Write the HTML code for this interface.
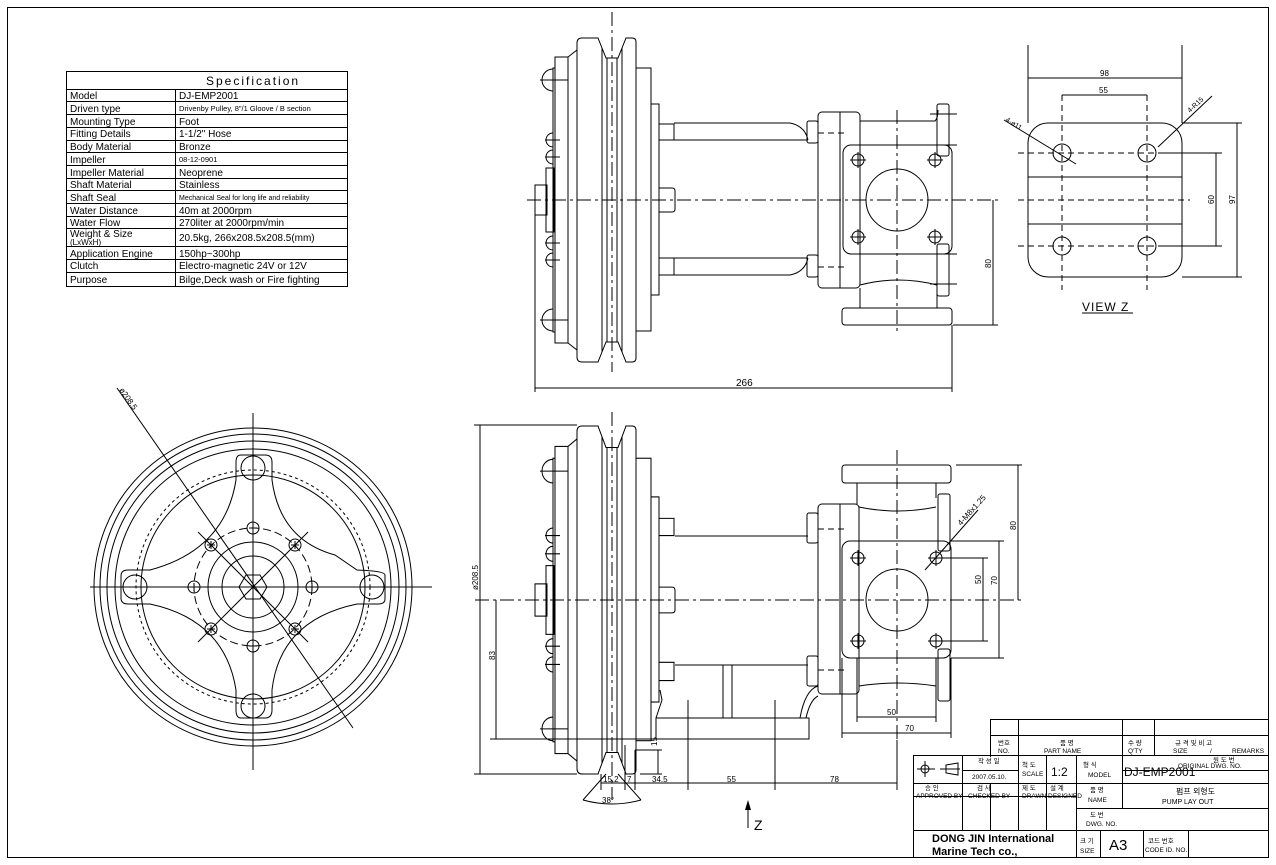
<!DOCTYPE html>
<html><head><meta charset="utf-8"><style>
html,body{margin:0;padding:0;background:#fff;}
svg{display:block;}
text{font-family:"Liberation Sans","Noto Sans CJK KR",sans-serif;fill:#000;}
.s{fill:none;stroke:#000;stroke-width:1;}
.d{fill:none;stroke:#000;stroke-width:1;stroke-dasharray:14,4,3,4;}
.h{fill:none;stroke:#000;stroke-width:1;stroke-dasharray:6,4;}
.t{font-size:10px;}
.sm{font-size:7px;}
</style></head><body>
<svg width="1276" height="865" viewBox="0 0 1276 865" xmlns="http://www.w3.org/2000/svg">
<rect x="0" y="0" width="1276" height="865" fill="#fff"/>
<rect x="7.5" y="7.5" width="1261" height="850" class="s"/>

<!-- SPEC TABLE -->
<g class="s">
<rect x="66.5" y="71.5" width="281" height="215"/>
<line x1="66" y1="89.5" x2="347" y2="89.5"/>
<line x1="66" y1="101.5" x2="347" y2="101.5"/>
<line x1="66" y1="114.5" x2="347" y2="114.5"/>
<line x1="66" y1="127.5" x2="347" y2="127.5"/>
<line x1="66" y1="140.5" x2="347" y2="140.5"/>
<line x1="66" y1="152.5" x2="347" y2="152.5"/>
<line x1="66" y1="165.5" x2="347" y2="165.5"/>
<line x1="66" y1="178.5" x2="347" y2="178.5"/>
<line x1="66" y1="190.5" x2="347" y2="190.5"/>
<line x1="66" y1="203.5" x2="347" y2="203.5"/>
<line x1="66" y1="216.5" x2="347" y2="216.5"/>
<line x1="66" y1="228.5" x2="347" y2="228.5"/>
<line x1="66" y1="246.5" x2="347" y2="246.5"/>
<line x1="66" y1="259.5" x2="347" y2="259.5"/>
<line x1="66" y1="272.5" x2="347" y2="272.5"/>
<line x1="175.5" y1="89" x2="175.5" y2="286"/>
</g>
<g class="t">
<text x="206" y="85" font-size="12" letter-spacing="2">Specification</text>
<text x="70" y="99">Model</text><text x="179" y="99">DJ-EMP2001</text>
<text x="70" y="112">Driven type</text><text x="179" y="111" font-size="7.5">Drivenby Pulley, 8"/1 Gloove / B section</text>
<text x="70" y="125">Mounting Type</text><text x="179" y="125">Foot</text>
<text x="70" y="137">Fitting Details</text><text x="179" y="137">1-1/2" Hose</text>
<text x="70" y="150">Body Material</text><text x="179" y="150">Bronze</text>
<text x="70" y="163">Impeller</text><text x="179" y="162" font-size="7.5">08-12-0901</text>
<text x="70" y="176">Impeller Material</text><text x="179" y="176">Neoprene</text>
<text x="70" y="188">Shaft Material</text><text x="179" y="188">Stainless</text>
<text x="70" y="201">Shaft Seal</text><text x="179" y="200" font-size="7">Mechanical Seal for long life and reliability</text>
<text x="70" y="214">Water Distance</text><text x="179" y="214">40m at 2000rpm</text>
<text x="70" y="226">Water Flow</text><text x="179" y="226">270liter at 2000rpm/min</text>
<text x="70" y="237">Weight &amp; Size</text><text x="70" y="245" font-size="8">(LxWxH)</text><text x="179" y="241">20.5kg, 266x208.5x208.5(mm)</text>
<text x="70" y="257">Application Engine</text><text x="179" y="257">150hp~300hp</text>
<text x="70" y="269">Clutch</text><text x="179" y="269">Electro-magnetic 24V or 12V</text>
<text x="70" y="283">Purpose</text><text x="179" y="283">Bilge,Deck wash or Fire fighting</text>
</g>

<!-- PULLEY TEMPLATE (top view) -->
<defs>
<g id="pul">
<path class="s" d="M582,38 L598,38 L606,58 L618,58 L626,38 L632,38 Q636,38 636,42 L636,358 Q636,362 632,362 L626,362 L618,342 L606,342 L598,362 L582,362 Q577,362 577,357 L577,43 Q577,38 582,38 Z"/>
<line class="s" x1="602" y1="48" x2="602" y2="352"/>
<line class="s" x1="622" y1="48" x2="622" y2="352"/>
<line class="s" x1="607" y1="58" x2="607" y2="342"/>
<line class="s" x1="617" y1="58" x2="617" y2="342"/>
<rect class="s" x="555" y="57" width="13" height="286"/>
<path class="s" d="M568,57 L577,50 M568,343 L577,350"/>
<rect class="s" x="553" y="68" width="2" height="264"/>
<path class="s" d="M553,69 A11,11 0 0 0 553,91 M553,133 A7,7 0 0 0 553,147 M553,150 A7,7 0 0 0 553,164 M553,236 A7,7 0 0 0 553,250 M553,253 A7,7 0 0 0 553,267 M553,309 A11,11 0 0 0 553,331"/>
<path class="s" d="M540,80 L568,80 M545,140 L560,140 M545,157 L560,157 M545,243 L560,243 M545,260 L560,260 M540,320 L568,320"/>
<rect class="s" x="546" y="168" width="8" height="64"/>
<rect class="s" x="535" y="185" width="12" height="30"/>
<rect class="s" x="636" y="68" width="15" height="263"/>
<rect class="s" x="651" y="104" width="8" height="191"/>
<path class="s" d="M659,124 L674,124 L674,140 L659,140 M659,188 L672,188 Q675,188 675,191 L675,209 Q675,212 672,212 L659,212 M659,258 L674,258 L674,275 L659,275"/>
</g>
</defs>

<!-- TOP VIEW -->
<use href="#pul"/>
<line class="d" x1="612" y1="12" x2="612" y2="372"/>
<g class="s">
<path d="M674,123 L790,123 Q805,126 808,140 M674,140 L808,140"/>
<path d="M674,258 L808,258 M674,275 L790,275 Q805,272 808,258"/>
<rect x="807" y="121" width="11" height="22" rx="2"/>
<rect x="807" y="255" width="11" height="22" rx="2"/>
<rect x="818" y="112" width="42" height="176" rx="4"/>
<line x1="840" y1="112" x2="840" y2="288"/>
<rect x="843" y="145" width="109" height="109" rx="8"/>
<circle cx="897" cy="200" r="31"/>
<circle cx="858" cy="160" r="6"/><circle cx="935" cy="160" r="6"/>
<circle cx="858" cy="237" r="6"/><circle cx="935" cy="237" r="6"/>
<path d="M860,121 L935,121 Q938,118 938,110 M860,288 L860,308 M937,288 L937,308 M860,285 Q898,275 937,285"/>
<rect x="937" y="104" width="12" height="52" rx="2"/>
<rect x="937" y="244" width="12" height="52" rx="2"/>
<rect x="842" y="308" width="110" height="17" rx="3"/>
</g>
<g class="s" stroke-width="0.8">
<path d="M850,160 H866 M858,152 V168 M927,160 H943 M935,152 V168 M850,237 H866 M858,229 V245 M927,237 H943 M935,229 V245"/>
<path d="M930,114 H957 M930,145 H957 M930,254 H957 M930,284 H957"/>
</g>
<line class="d" x1="527" y1="200" x2="1000" y2="200"/>
<line class="d" x1="897" y1="110" x2="897" y2="335"/>
<line class="h" x1="818" y1="133" x2="845" y2="133"/><line class="h" x1="818" y1="267" x2="845" y2="267"/>
<!-- dims top -->
<g class="s">
<line x1="535" y1="212" x2="535" y2="392"/>
<line x1="952" y1="325" x2="952" y2="392"/>
<line x1="535" y1="388" x2="952" y2="388"/>
<line x1="993" y1="200" x2="993" y2="325"/>
<line x1="953" y1="325" x2="998" y2="325"/>
</g>
<text class="t" x="736" y="386" font-size="8">266</text>
<text font-size="8" transform="translate(991,268) rotate(-90)">80</text>

<!-- VIEW Z -->
<g class="s">
<rect x="1028" y="123" width="154" height="154" rx="20"/>
<line x1="1028" y1="177" x2="1182" y2="177"/>
<line x1="1028" y1="224" x2="1182" y2="224"/>
<circle cx="1062" cy="153" r="9"/><circle cx="1147" cy="153" r="9"/>
<circle cx="1062" cy="246" r="9"/><circle cx="1147" cy="246" r="9"/>
<line x1="1028" y1="45" x2="1028" y2="123"/><line x1="1182" y1="45" x2="1182" y2="123"/>
<line x1="1028" y1="78" x2="1182" y2="78"/>
<line x1="1062" y1="95" x2="1147" y2="95"/>
<line x1="1182" y1="123" x2="1242" y2="123"/><line x1="1182" y1="277" x2="1242" y2="277"/>
<line x1="1237" y1="123" x2="1237" y2="277"/>
<line x1="1160" y1="153" x2="1222" y2="153"/><line x1="1160" y1="246" x2="1222" y2="246"/>
<line x1="1216" y1="153" x2="1216" y2="246"/>
<line x1="1004" y1="120" x2="1076" y2="164"/>
<line x1="1158" y1="147" x2="1212" y2="96"/>
<line x1="1082" y1="313" x2="1133" y2="313"/>
</g>
<g class="h">
<line x1="1018" y1="153" x2="1190" y2="153"/><line x1="1018" y1="200" x2="1190" y2="200"/><line x1="1018" y1="246" x2="1190" y2="246"/>
<line x1="1062" y1="95" x2="1062" y2="290"/><line x1="1147" y1="95" x2="1147" y2="290"/>
</g>
<text x="1100" y="76" font-size="8">98</text>
<text x="1099" y="93" font-size="8">55</text>
<text font-size="8" transform="translate(1214,204) rotate(-90)">60</text>
<text font-size="8" transform="translate(1235,204) rotate(-90)">97</text>
<text font-size="7" transform="translate(1005,121) rotate(31)">4-ø11</text>
<text font-size="7" transform="translate(1190,113) rotate(-43)">4-R15</text>
<text x="1082" y="311" font-size="12" letter-spacing="1">VIEW Z</text>

<!-- FRONT CIRCLE VIEW -->
<g class="s">
<circle cx="253" cy="587" r="159"/>
<circle cx="253" cy="587" r="153"/>
<circle cx="253" cy="587" r="146"/>
<circle cx="253" cy="587" r="138"/>
<circle cx="253" cy="587" r="117" stroke-dasharray="3,3"/>
<circle cx="253" cy="587" r="112"/>
<circle cx="253" cy="587" r="45"/>
<circle cx="253" cy="587" r="31"/>
<circle cx="253" cy="587" r="59" stroke-dasharray="8,4"/>
<polygon points="267,587 260,599 246,599 239,587 246,575 260,575"/>
<path d="M241,455 L265,455 Q272,455 272,462 L272,480 Q280,540 335,555 L357,570 Q385,571 385,575 L385,599 Q385,604 378,604 L357,604 Q280,620 272,690 L272,710 Q272,718 265,718 L241,718 Q236,718 236,710 L236,690 Q225,620 150,604 L128,604 Q121,604 121,598 L121,576 Q121,570 128,570 L150,570 Q225,550 236,480 L236,462 Q236,455 241,455 Z"/>
<circle cx="253" cy="468" r="12"/><circle cx="253" cy="706" r="12"/>
<circle cx="135" cy="587" r="12"/><circle cx="372" cy="587" r="12"/>
<line x1="117" y1="388" x2="353" y2="728"/>
</g>
<g class="s">
<circle cx="253" cy="528" r="6"/><circle cx="253" cy="646" r="6"/>
<circle cx="194" cy="587" r="6"/><circle cx="312" cy="587" r="6"/>
<circle cx="211" cy="545" r="6"/><circle cx="295" cy="545" r="6"/>
<circle cx="211" cy="629" r="6"/><circle cx="295" cy="629" r="6"/>
<path d="M249,528 H257 M253,524 V532 M249,646 H257 M253,642 V650 M190,587 H198 M194,583 V591 M308,587 H316 M312,583 V591 M207,545 H215 M211,541 V549 M291,545 H299 M295,541 V549 M207,629 H215 M211,625 V633 M291,629 H299 M295,625 V633"/>
<line x1="90" y1="587" x2="432" y2="587"/>
<line x1="253" y1="413" x2="253" y2="770"/>
<line x1="198" y1="532" x2="308" y2="642"/>
<line x1="198" y1="642" x2="308" y2="532"/>
</g>
<text font-size="8" transform="translate(119,390) rotate(55)">ø208.5</text>

<!-- BOTTOM VIEW -->
<use href="#pul" transform="translate(0,600) scale(1,1.074) translate(0,-200)"/>
<line class="d" x1="612" y1="412" x2="612" y2="800"/>
<g class="s">
<path d="M675,536 L808,536 M675,665 L808,665"/>
<rect x="807" y="513" width="11" height="30" rx="2"/>
<rect x="807" y="656" width="11" height="30" rx="2"/>
<rect x="818" y="504" width="41" height="190" rx="4"/>
<line x1="840" y1="504" x2="840" y2="694"/>
<rect x="842" y="541" width="109" height="117" rx="8"/>
<circle cx="897" cy="600" r="31"/>
<circle cx="858" cy="558" r="6"/><circle cx="936" cy="558" r="6"/>
<circle cx="858" cy="641" r="6"/><circle cx="936" cy="641" r="6"/>
<rect x="842" y="465" width="109" height="18" rx="3"/>
<path d="M857,483 L857,504 M936,483 L936,498 M859,507 Q897,515 936,507"/>
<path d="M857,658 L857,686 M936,658 L936,686 M859,686 Q897,680 936,686"/>
<rect x="938" y="494" width="12" height="57" rx="2"/>
<rect x="938" y="649" width="12" height="52" rx="2"/>
<rect x="656" y="718" width="153" height="21"/>
<path d="M723,665 L723,718 M732,665 L732,718"/>
<path d="M818,686 Q805,690 800,718 M818,696 Q810,700 806,718 M656,718 L662,700 L660,690"/>
<path d="M850,558 H866 M858,550 V566 M928,558 H944 M936,550 V566 M850,641 H866 M858,633 V649 M928,641 H944 M936,633 V649"/>
</g>
<line class="d" x1="475" y1="600" x2="1022" y2="600"/>
<line class="d" x1="897" y1="450" x2="897" y2="790"/>
<line class="h" x1="818" y1="529" x2="845" y2="529"/><line class="h" x1="818" y1="670" x2="845" y2="670"/>
<g class="s">
<line x1="474" y1="425" x2="577" y2="425"/><line x1="474" y1="774" x2="577" y2="774"/>
<line x1="480" y1="425" x2="480" y2="774"/>
<line x1="490" y1="739" x2="656" y2="739"/><line x1="496" y1="600" x2="496" y2="739"/>
<line x1="635" y1="750" x2="662" y2="750"/><line x1="658" y1="750" x2="658" y2="774"/><line x1="640" y1="774" x2="662" y2="774"/>
<line x1="601" y1="774" x2="601" y2="790"/><line x1="625" y1="745" x2="625" y2="790"/><line x1="635" y1="750" x2="635" y2="790"/>
<line x1="688" y1="700" x2="688" y2="790"/><line x1="775" y1="700" x2="775" y2="790"/><line x1="897" y1="740" x2="897" y2="790"/>
<line x1="601" y1="783" x2="897" y2="783"/>
<path d="M606,774 L583,800 M618,774 L641,800 M583,800 Q612,808 641,800"/>
<line x1="956" y1="465" x2="1022" y2="465"/><line x1="1018" y1="465" x2="1018" y2="600"/>
<line x1="951" y1="541" x2="1004" y2="541"/><line x1="951" y1="658" x2="1004" y2="658"/><line x1="999" y1="541" x2="999" y2="658"/>
<line x1="940" y1="558" x2="988" y2="558"/><line x1="940" y1="641" x2="988" y2="641"/><line x1="983" y1="558" x2="983" y2="641"/>
<line x1="857" y1="686" x2="857" y2="722"/><line x1="936" y1="686" x2="936" y2="722"/><line x1="857" y1="717" x2="936" y2="717"/>
<line x1="842" y1="658" x2="842" y2="738"/><line x1="951" y1="658" x2="951" y2="738"/><line x1="842" y1="733" x2="951" y2="733"/>
<line x1="925" y1="570" x2="978" y2="510"/>
<line x1="748" y1="803" x2="748" y2="828"/>
</g>
<polygon points="748,800 745,810 751,810" fill="#000"/>
<text x="754" y="830" font-size="14">Z</text>
<text font-size="8" transform="translate(478,590) rotate(-90)">ø208.5</text>
<text font-size="8" transform="translate(495,660) rotate(-90)">83</text>
<text font-size="8" transform="translate(657,746) rotate(-90)">15</text>
<text font-size="8" transform="translate(1016,530) rotate(-90)">80</text>
<text font-size="8" transform="translate(997,585) rotate(-90)">70</text>
<text font-size="8" transform="translate(981,584) rotate(-90)">50</text>
<text font-size="8" transform="translate(961,526) rotate(-48)">4-M8x1.25</text>
<text x="887" y="715" font-size="8">50</text>
<text x="905" y="731" font-size="8">70</text>
<text x="603" y="782" font-size="8">15.2</text>
<text x="627" y="782" font-size="8">7</text>
<text x="652" y="782" font-size="8">34.5</text>
<text x="727" y="782" font-size="8">55</text>
<text x="830" y="782" font-size="8">78</text>
<text x="602" y="803" font-size="8">38°</text>

<!-- TITLE BLOCK -->
<g class="s">
<path d="M990.5,719.5 H1268 M990.5,735.5 H1268 M913.5,755.5 H1268 M913.5,783.5 H1268 M913.5,796.5 H1076 M913.5,830.5 H1268 M1076,808.5 H1268 M1123,770.5 H1268"/>
<path d="M990.5,719 V757 M1018.5,719 V830 M1122.5,719 V808 M1154.5,719 V756 M913.5,755 V857 M962.5,755 V830 M990.5,783 V830 M1046.5,755 V830 M1076.5,755 V857 M1100.5,830 V857 M1143.5,830 V857 M1188.5,830 V857"/>
<line x1="962" y1="770.5" x2="1018" y2="770.5"/>
<circle cx="925" cy="769" r="4"/><path d="M917,769 H935 M925,761 V777 M940,769 H960 M946,765 L958,763 L958,775 L946,773 Z"/>
</g>
<g font-size="6.5">
<text x="998" y="745">번호</text><text x="998" y="753">NO.</text>
<text x="1060" y="745">품 명</text><text x="1044" y="753">PART NAME</text>
<text x="1128" y="745">수 량</text><text x="1128" y="753">Q'TY</text>
<text x="1175" y="745">규 격 및 비 고</text><text x="1173" y="753">SIZE</text><text x="1210" y="753">/</text><text x="1232" y="753">REMARKS</text>
<text x="978" y="763">작 성 일</text><text x="972" y="779">2007.05.10.</text>
<text x="1022" y="767">척 도</text><text x="1022" y="776">SCALE</text>
<text x="1083" y="767">형 식</text><text x="1088" y="777">MODEL</text>
<text x="1213" y="762">원 도 번</text><text x="1178" y="768">ORIGINAL DWG. NO.</text>
<text x="925" y="790">승 인</text><text x="916" y="798">APPROVED BY</text>
<text x="977" y="790">검 사</text><text x="968" y="798">CHECKED BY</text>
<text x="1022" y="790">제 도</text><text x="1022" y="798">DRAWN</text>
<text x="1050" y="790">설 계</text><text x="1048" y="798">DESIGNED</text>
<text x="1090" y="792">품 명</text><text x="1088" y="802">NAME</text>
<text x="1090" y="817">도 번</text><text x="1086" y="826">DWG. NO.</text>
<text x="1080" y="843">크 기</text><text x="1080" y="853">SIZE</text>
<text x="1148" y="843">코드 번호</text><text x="1145" y="852">CODE ID. NO.</text>
</g>
<text x="1051" y="776" font-size="12">1:2</text>
<text x="1124" y="776" font-size="12">DJ-EMP2001</text>
<text x="1176" y="794" font-size="8">펌프 외형도</text>
<text x="1162" y="804" font-size="7">PUMP LAY OUT</text>
<text x="1109" y="850" font-size="15">A3</text>
<text x="932" y="842" font-size="11" font-weight="bold">DONG JIN International</text>
<text x="932" y="855" font-size="11" font-weight="bold">Marine Tech co.,</text>
</svg>
</body></html>
